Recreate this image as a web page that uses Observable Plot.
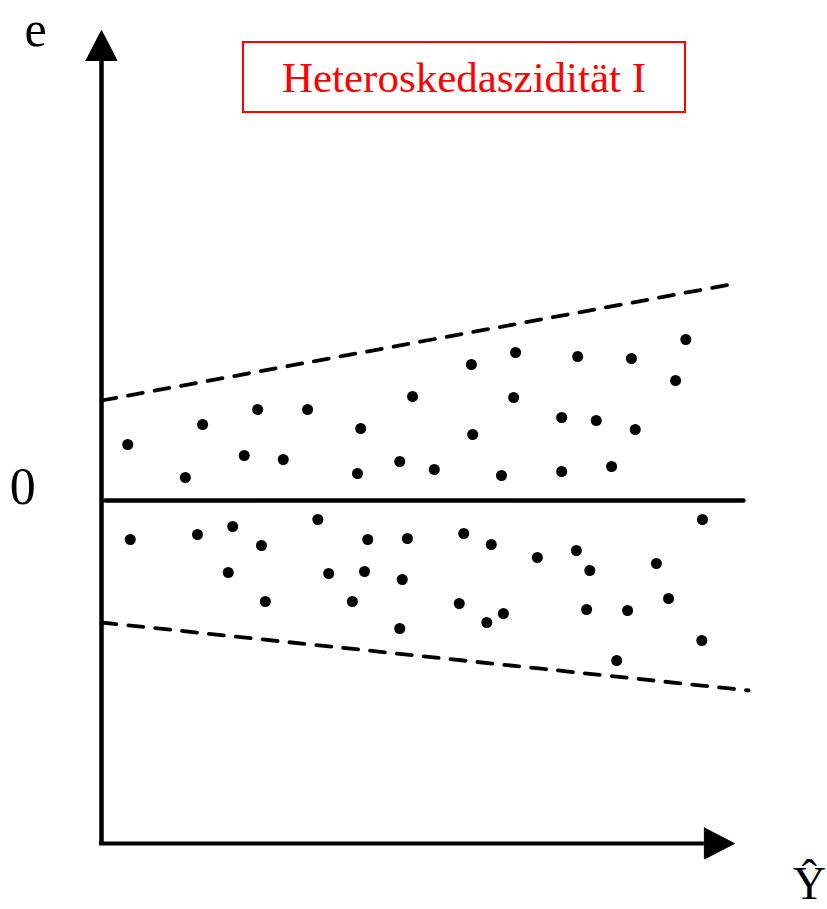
<!DOCTYPE html>
<html>
<head>
<meta charset="utf-8">
<script src="https://cdn.jsdelivr.net/npm/d3@7"></script>
<script src="https://cdn.jsdelivr.net/npm/@observablehq/plot@0.6"></script>
<style>
  html, body { margin: 0; padding: 0; background: #fff; }
  #wrap { position: relative; width: 827px; height: 909px; overflow: hidden; }
  #title {
    position: absolute; left: 242px; top: 41px; width: 440px; height: 68px;
    border: 2px solid #ff0000; color: #ff0000;
    font-family: "Liberation Serif", "Times New Roman", serif; font-size: 43px;
    display: flex; align-items: center; justify-content: center; line-height: 1;
    background: #fff;
  }
</style>
</head>
<body>
<div id="wrap"><div id="title">Heteroskedaszidität I</div></div>
<script>
// Fitted values (Ŷ) and residuals (e)
const yhat = [0.41,1.58,2.44,3.22,4.05,4.86,1.31,2.23,2.84,4.00,4.66,5.20,5.78,6.47,7.44,8.28,9.13,8.97,6.44,7.19,7.73,8.34,5.80,6.25,7.19,7.97,
              0.45,1.50,2.05,2.50,3.38,4.16,4.78,1.98,3.55,4.11,4.70,2.56,3.92,4.66,5.66,6.09,6.81,7.42,7.63,8.67,9.39,5.59,6.02,6.28,7.58,8.22,8.86,9.38,8.05];
const resid = [0.56,0.76,0.91,0.91,0.72,1.04,0.23,0.45,0.41,0.27,0.39,0.31,1.36,1.48,1.44,1.42,1.61,1.20,1.03,0.83,0.80,0.71,0.66,0.25,0.29,0.34,
              -0.39,-0.34,-0.26,-0.45,-0.19,-0.39,-0.38,-0.72,-0.73,-0.71,-0.79,-1.01,-1.01,-1.28,-0.33,-0.44,-0.57,-0.50,-0.70,-0.63,-0.19,-1.03,-1.22,-1.13,-1.09,-1.10,-0.98,-1.40,-1.60];

// Envelope (dashed) lines
const upperBandX = [0, 9.91];
const upperBandE = [1.00, 2.17];
const lowerBandX = [0, 10.11];
const lowerBandE = [-1.22, -1.90];

// Zero line extent
const zeroLineX = [0.06, 10.03];

// Axis extents
const axisXMin = 0, axisXEnd = 9.42, axisXTip = 9.89;
const axisEMin = -3.43, axisEEnd = 4.4, axisETip = 4.7;
const headHalfX = 0.242, headHalfE = 0.155;

const points = yhat.map((x, i) => ({x, e: resid[i]}));
const upper = upperBandX.map((x, i) => ({x, e: upperBandE[i]}));
const lower = lowerBandX.map((x, i) => ({x, e: lowerBandE[i]}));
const zero = zeroLineX.map(x => ({x, e: 0}));
const yHead = [
  {x: axisXMin - headHalfX, e: axisEEnd},
  {x: axisXMin, e: axisETip},
  {x: axisXMin + headHalfX, e: axisEEnd},
  {x: axisXMin - headHalfX, e: axisEEnd}
];
const xHead = [
  {x: axisXEnd, e: axisEMin + headHalfE},
  {x: axisXTip, e: axisEMin},
  {x: axisXEnd, e: axisEMin - headHalfE},
  {x: axisXEnd, e: axisEMin + headHalfE}
];
const labels = [
  {x: -1.03, e: 4.55, text: "e", size: 50, anchor: "middle"},
  {x: -1.23, e: -0.03, text: "0", size: 52, anchor: "middle"},
  {x: 10.80, e: -3.98, text: "Ŷ", size: 46, anchor: "start"}
];

const serif = "Liberation Serif, Times New Roman, serif";

const chart = Plot.plot({
  width: 827,
  height: 909,
  margin: 0,
  style: {background: "transparent", overflow: "visible"},
  x: {domain: [0, 10], range: [101, 741], axis: null},
  y: {domain: [-3.43, 4.7], range: [843, 30], axis: null},
  marks: [
    Plot.line(upper, {x: "x", y: "e", stroke: "black", strokeWidth: 3.8, strokeDasharray: "15,12"}),
    Plot.line(lower, {x: "x", y: "e", stroke: "black", strokeWidth: 3.8, strokeDasharray: "15,12"}),
    Plot.line(zero, {x: "x", y: "e", stroke: "black", strokeWidth: 4.5}),
    Plot.ruleX([axisXMin], {y1: axisEMin, y2: axisEEnd, stroke: "black", strokeWidth: 4.5}),
    Plot.ruleY([axisEMin], {x1: axisXMin - 0.03, x2: axisXEnd, stroke: "black", strokeWidth: 4}),
    Plot.line(yHead, {x: "x", y: "e", fill: "black", stroke: "black", strokeWidth: 1}),
    Plot.line(xHead, {x: "x", y: "e", fill: "black", stroke: "black", strokeWidth: 1}),
    Plot.dot(points, {x: "x", y: "e", r: 5.5, fill: "black", stroke: "none"}),
    ...labels.map(l => Plot.text([l], {x: "x", y: "e", text: "text", fontSize: l.size, fontFamily: serif, textAnchor: l.anchor, lineAnchor: "bottom", fill: "black"}))
  ]
});
chart.style.position = "absolute";
chart.style.left = "0";
chart.style.top = "0";
const wrap = document.getElementById("wrap");
wrap.insertBefore(chart, wrap.firstChild);
</script>
</body>
</html>
